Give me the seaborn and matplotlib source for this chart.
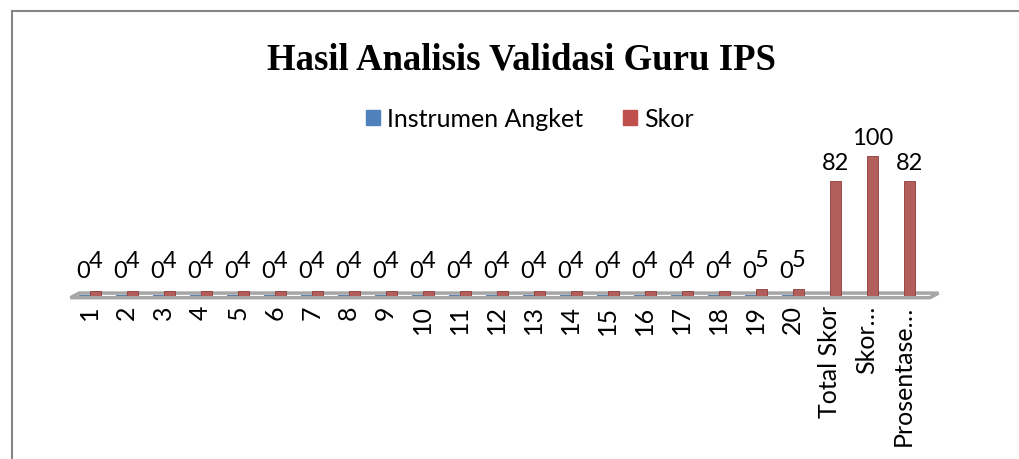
import matplotlib
matplotlib.use("Agg")
import matplotlib.pyplot as plt
import matplotlib.patches as mpatches
import numpy as np
import pandas as pd
import seaborn as sns

categories = [str(i) for i in range(1, 21)] + ["Total Skor", "Skor…", "Prosentase…"]
instrumen_angket = [0] * 20 + [np.nan, np.nan, np.nan]
skor = [4] * 18 + [5, 5] + [82, 100, 82]
series_names = ["Instrumen Angket", "Skor"]

sns.set_theme(style="white")
plt.rcParams["font.family"] = ["Lato", "DejaVu Sans"]

df = pd.DataFrame({
    "cat": categories * 2,
    "value": instrumen_angket + skor,
    "series": [series_names[0]] * len(categories) + [series_names[1]] * len(categories),
})

blue = "#4F81BD"
red = "#C0504D"

fig = plt.figure(figsize=(10.19, 4.60), dpi=100)
ax = fig.add_axes([0.064, 0.354, 0.857, 0.335])

sns.barplot(data=df, x="cat", y="value", hue="series", order=categories,
            hue_order=series_names, palette=[blue, red], width=0.6,
            edgecolor="#8E3B39", linewidth=0.6, ax=ax, legend=False)

ax.set_ylim(0, 110)
ax.set_xlim(-0.66, 22.94)
ax.set_xlabel("")
ax.set_ylabel("")
ax.set_yticks([])
for s in ax.spines.values():
    s.set_visible(False)
ax.tick_params(axis="x", length=0, pad=6, labelsize=18, labelrotation=90, colors="black")

# blue zero bars visible as thin line
for p in ax.containers[0]:
    p.set_edgecolor("none")
    h = p.get_height()
    if not np.isnan(h) and h == 0:
        p.set_height(0.6)

# floor
floor = mpatches.Polygon([[0.006, -0.01], [0.99, -0.01], [1.0, 0.02], [0.016, 0.02]],
                         closed=True, transform=ax.transAxes, facecolor="white",
                         edgecolor="#A6A6A6", linewidth=2.5, zorder=0, clip_on=False)
ax.add_patch(floor)

# labels
for i, (b, r) in enumerate(zip(instrumen_angket, skor)):
    if not np.isnan(b):
        ax.annotate(f"{int(b)}", (i - 0.15, b), xytext=(-1, 11), textcoords="offset points",
                    ha="center", va="bottom", fontsize=17, color="black")
    ax.annotate(f"{int(r)}", (i + 0.15, r), xytext=(0, 14 if r < 10 else 6),
                textcoords="offset points", ha="center", va="bottom", fontsize=17, color="black")

fig.text(0.512, 0.870, "Hasil Analisis Validasi Guru IPS", ha="center", va="center",
         fontsize=26.5, fontweight="bold", family="Liberation Serif", color="black")

handles = [mpatches.Patch(color=blue, label=series_names[0]),
           mpatches.Patch(color=red, label=series_names[1])]
fig.legend(handles=handles, loc="center", bbox_to_anchor=(0.52, 0.74), ncol=2,
           frameon=False, fontsize=18, handlelength=0.55, handleheight=0.55,
           handletextpad=0.3, columnspacing=1.6, labelcolor="black")

# outer border
border = mpatches.Rectangle((12 / 1019, -0.01), 1.0, 1 - 12 / 460 + 0.01,
                            transform=fig.transFigure, fill=False,
                            edgecolor="#868686", linewidth=1.5)
fig.patches.append(border)

fig.savefig("out.png", dpi=100)
